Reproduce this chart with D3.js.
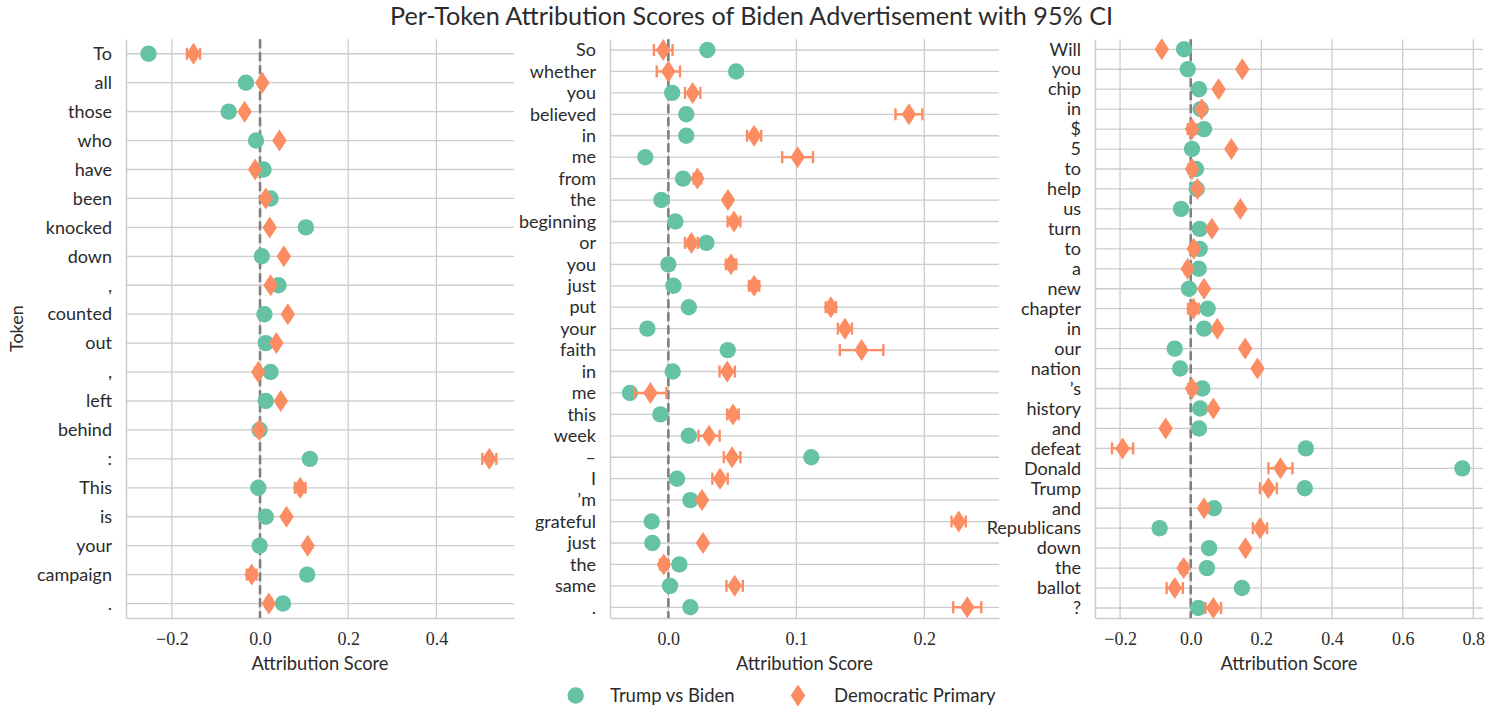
<!DOCTYPE html>
<html>
<head>
<meta charset="utf-8">
<script src="https://cdn.jsdelivr.net/npm/d3@7"></script>
<style>
  html, body { margin: 0; padding: 0; background: #fff; }
  svg { display: block; }
  .lbl { font-family: Lato, "Open Sans", sans-serif; fill: #2b2b2b; }
  .num { font-family: "Liberation Serif", "DejaVu Serif", serif; fill: #2b2b2b; }
</style>
</head>
<body>
<svg id="chart" width="1503" height="709"></svg>
<script>
// ---- Segment 1 ----
const tokens1 = ["To", "all", "those", "who", "have", "been", "knocked", "down", ",", "counted",
  "out", ",", "left", "behind", ":", "This", "is", "your", "campaign", "."];
const trump1 = [-0.253, -0.032, -0.071, -0.009, 0.008, 0.024, 0.104, 0.004, 0.042, 0.010,
  0.013, 0.024, 0.013, -0.001, 0.113, -0.004, 0.013, -0.001, 0.107, 0.052];
const trumpErr1 = [0.010, 0.003, 0.003, 0.003, 0.003, 0.003, 0.003, 0.003, 0.003, 0.003,
  0.003, 0.003, 0.003, 0.003, 0.003, 0.003, 0.003, 0.003, 0.003, 0.003];
const dem1 = [-0.151, 0.005, -0.035, 0.044, -0.011, 0.013, 0.022, 0.054, 0.024, 0.063,
  0.037, -0.004, 0.047, -0.002, 0.520, 0.091, 0.060, 0.108, -0.019, 0.020];
const demErr1 = [0.015, 0.004, 0.004, 0.004, 0.005, 0.006, 0.004, 0.004, 0.006, 0.005,
  0.005, 0.006, 0.005, 0.006, 0.016, 0.012, 0.005, 0.005, 0.011, 0.006];

// ---- Segment 2 ----
const tokens2 = ["So", "whether", "you", "believed", "in", "me", "from", "the", "beginning", "or",
  "you", "just", "put", "your", "faith", "in", "me", "this", "week", "\u2013",
  "I", "\u2019m", "grateful", "just", "the", "same", "."];
const trump2 = [0.0305, 0.053, 0.003, 0.014, 0.014, -0.018, 0.0115, -0.0055, 0.0055, 0.0297,
  0.000, 0.004, 0.016, -0.0164, 0.0464, 0.0034, -0.030, -0.0062, 0.016, 0.1117,
  0.0068, 0.0172, -0.013, -0.0125, 0.0086, 0.0013, 0.0172];
const trumpErr2 = [0.002, 0.002, 0.002, 0.002, 0.002, 0.002, 0.002, 0.002, 0.002, 0.002,
  0.002, 0.002, 0.002, 0.002, 0.002, 0.002, 0.002, 0.002, 0.002, 0.002,
  0.002, 0.002, 0.002, 0.002, 0.002, 0.002, 0.002];
const dem2 = [-0.004, 0.000, 0.019, 0.188, 0.067, 0.101, 0.0227, 0.0466, 0.0513, 0.018,
  0.049, 0.067, 0.127, 0.138, 0.151, 0.046, -0.014, 0.0505, 0.0318, 0.0498,
  0.0404, 0.0263, 0.2269, 0.0271, -0.0036, 0.0518, 0.2336];
const demErr2 = [0.0073, 0.0091, 0.006, 0.0105, 0.0055, 0.012, 0.003, 0.002, 0.005, 0.005,
  0.004, 0.004, 0.004, 0.0055, 0.017, 0.006, 0.0125, 0.0045, 0.0083, 0.0065,
  0.006, 0.002, 0.0056, 0.002, 0.003, 0.0064, 0.011];

// ---- Segment 3 ----
const tokens3 = ["Will", "you", "chip", "in", "$", "5", "to", "help", "us", "turn",
  "to", "a", "new", "chapter", "in", "our", "nation", "\u2019s", "history", "and",
  "defeat", "Donald", "Trump", "and", "Republicans", "down", "the", "ballot", "?"];
const trump3 = [-0.019, -0.0085, 0.0235, 0.028, 0.0377, 0.0037, 0.015, 0.017, -0.0275, 0.0255,
  0.0255, 0.0227, -0.005, 0.048, 0.0377, -0.0453, -0.030, 0.033, 0.0264, 0.0235,
  0.326, 0.769, 0.323, 0.066, -0.088, 0.052, 0.046, 0.145, 0.0215];
const trumpErr3 = [0.004, 0.004, 0.004, 0.004, 0.004, 0.004, 0.004, 0.004, 0.004, 0.004,
  0.004, 0.004, 0.004, 0.004, 0.004, 0.004, 0.004, 0.004, 0.004, 0.004,
  0.004, 0.004, 0.004, 0.004, 0.015, 0.004, 0.004, 0.004, 0.004];
const dem3 = [-0.082, 0.146, 0.079, 0.031, 0.0037, 0.115, 0.0037, 0.019, 0.1406, 0.060,
  0.0085, -0.0085, 0.0377, 0.0075, 0.0755, 0.154, 0.189, 0.0037, 0.064, -0.0708,
  -0.193, 0.254, 0.220, 0.0377, 0.196, 0.155, -0.020, -0.0453, 0.064];
const demErr3 = [0.005, 0.005, 0.005, 0.008, 0.012, 0.006, 0.010, 0.008, 0.005, 0.006,
  0.010, 0.008, 0.006, 0.015, 0.006, 0.006, 0.006, 0.010, 0.006, 0.005,
  0.030, 0.034, 0.024, 0.006, 0.020, 0.006, 0.010, 0.023, 0.022];

const tickValues1 = [-0.2, 0.0, 0.2, 0.4];
const tickValues2 = [0.0, 0.1, 0.2];
const tickValues3 = [-0.2, 0.0, 0.2, 0.4, 0.6, 0.8];

const seriesNames = ["Trump vs Biden", "Democratic Primary"];
const titleText = "Per-Token Attribution Scores of Biden Advertisement with 95% CI";

// ---- Styling ----
const GREEN = "#66c2a5", ORANGE = "#fc8d62", GRID = "#cccccc";
const TOP = 39.3, BOTTOM = 618;

const panels = [
  { tokens: tokens1, trump: trump1, trumpErr: trumpErr1, dem: dem1, demErr: demErr1,
    ticks: tickValues1, x0: 126, x1: 514, domain: [-0.304, 0.576], ylabel: "Token" },
  { tokens: tokens2, trump: trump2, trumpErr: trumpErr2, dem: dem2, demErr: demErr2,
    ticks: tickValues2, x0: 610, x1: 999, domain: [-0.0456, 0.2584] },
  { tokens: tokens3, trump: trump3, trumpErr: trumpErr3, dem: dem3, demErr: demErr3,
    ticks: tickValues3, x0: 1095, x1: 1483, domain: [-0.271, 0.8275] }
];

const svg = d3.select("#chart");
const fmt = d3.format(".1f");

// thin diamond path centred on the origin
function diamond(w, h) {
  return `M0,${-h / 2}L${w / 2},0L0,${h / 2}L${-w / 2},0Z`;
}

svg.append("text")
  .attr("class", "lbl")
  .attr("x", 751.5).attr("y", 24.5)
  .attr("text-anchor", "middle")
  .style("font-size", "25.2px")
  .text(titleText);

panels.forEach(p => {
  const n = p.tokens.length;
  const x = d3.scaleLinear().domain(p.domain).range([p.x0, p.x1]);
  const y = d3.scaleLinear().domain([-0.5, n - 0.5]).range([TOP, BOTTOM]);
  const idx = d3.range(n);
  const g = svg.append("g");

  // vertical grid
  g.selectAll(".vg").data(p.ticks).join("line")
    .attr("x1", d => x(d)).attr("x2", d => x(d))
    .attr("y1", TOP).attr("y2", BOTTOM)
    .attr("stroke", GRID).attr("stroke-width", 1.3);
  // horizontal grid at each token
  g.selectAll(".hg").data(idx).join("line")
    .attr("x1", p.x0).attr("x2", p.x1)
    .attr("y1", d => y(d)).attr("y2", d => y(d))
    .attr("stroke", GRID).attr("stroke-width", 1.3);

  // x axis
  const xa = g.append("g")
    .attr("transform", `translate(0,${BOTTOM})`)
    .call(d3.axisBottom(x).tickValues(p.ticks).tickFormat(d => fmt(d).replace("-", "\u2212")).tickSize(0).tickPadding(14));
  xa.select(".domain").attr("stroke", GRID).attr("stroke-width", 1.5);
  xa.selectAll("text").attr("class", "num").style("font-size", "18px").attr("fill", "#2b2b2b")
    .attr("font-family", null);

  // y axis
  const ya = g.append("g")
    .attr("transform", `translate(${p.x0},0)`)
    .call(d3.axisLeft(y).tickValues(idx).tickFormat(i => p.tokens[i]).tickSize(0).tickPadding(14));
  ya.select(".domain").attr("stroke", GRID).attr("stroke-width", 1.5);
  ya.selectAll("text").attr("class", "lbl").style("font-size", "18px").attr("fill", "#2b2b2b")
    .attr("font-family", null);

  // zero reference
  g.append("line")
    .attr("x1", x(0)).attr("x2", x(0)).attr("y1", TOP).attr("y2", BOTTOM)
    .attr("stroke", "#7f7f7f").attr("stroke-width", 2.6).attr("stroke-dasharray", "9,4");

  // series: Trump vs Biden (circles) then Democratic Primary (diamonds)
  const series = [
    { vals: p.trump, err: p.trumpErr, color: GREEN, shape: "circle" },
    { vals: p.dem, err: p.demErr, color: ORANGE, shape: "diamond" }
  ];
  series.forEach(s => {
    const eb = g.append("g").attr("stroke", s.color).attr("stroke-width", 2.4);
    idx.forEach(i => {
      const lo = x(s.vals[i] - s.err[i]), hi = x(s.vals[i] + s.err[i]), cy = y(i);
      eb.append("line").attr("x1", lo).attr("x2", hi).attr("y1", cy).attr("y2", cy);
      eb.append("line").attr("x1", lo).attr("x2", lo).attr("y1", cy - 6).attr("y2", cy + 6);
      eb.append("line").attr("x1", hi).attr("x2", hi).attr("y1", cy - 6).attr("y2", cy + 6);
    });
    if (s.shape === "circle") {
      g.selectAll(null).data(idx).join("circle")
        .attr("cx", i => x(s.vals[i])).attr("cy", i => y(i)).attr("r", 8.2)
        .attr("fill", s.color);
    } else {
      g.selectAll(null).data(idx).join("path")
        .attr("d", diamond(14.5, 22))
        .attr("transform", i => `translate(${x(s.vals[i])},${y(i)})`)
        .attr("fill", s.color);
    }
  });

  // axis title
  g.append("text").attr("class", "lbl")
    .attr("x", (p.x0 + p.x1) / 2).attr("y", 670)
    .attr("text-anchor", "middle").style("font-size", "18.3px")
    .text("Attribution Score");

  if (p.ylabel) {
    g.append("text").attr("class", "lbl")
      .attr("transform", `translate(23,${(TOP + BOTTOM) / 2}) rotate(-90)`)
      .attr("text-anchor", "middle").style("font-size", "18px")
      .text(p.ylabel);
  }
});

// legend
const lg = svg.append("g");
lg.append("circle").attr("cx", 575.7).attr("cy", 695.5).attr("r", 8.2).attr("fill", GREEN);
lg.append("text").attr("class", "lbl").attr("x", 610).attr("y", 701.5)
  .style("font-size", "18.5px").text(seriesNames[0]);
lg.append("path").attr("d", diamond(14.5, 22)).attr("transform", "translate(798,695.5)").attr("fill", ORANGE);
lg.append("text").attr("class", "lbl").attr("x", 834).attr("y", 701.5)
  .style("font-size", "18.5px").text(seriesNames[1]);
</script>
</body>
</html>
